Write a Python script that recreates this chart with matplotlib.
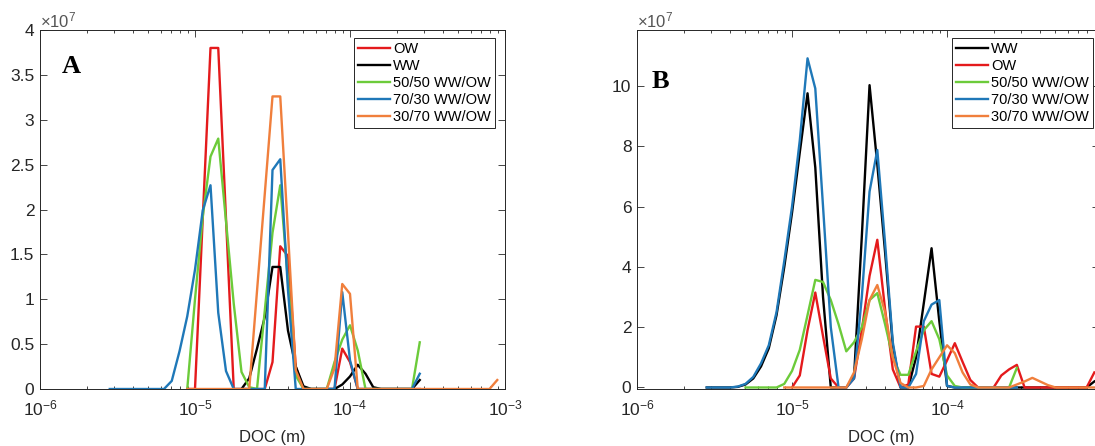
import numpy as np
import matplotlib
matplotlib.use('Agg')
import matplotlib.pyplot as plt
from matplotlib.ticker import FuncFormatter, LogLocator, NullFormatter

plt.rcParams['font.family'] = ['Liberation Sans', 'DejaVu Sans']
plt.rcParams['mathtext.default'] = 'regular'

# ---- data: log10 of DOC (m) bin centres, values in units of 1e7 ----
doc_exp = np.round(np.arange(-5.55, -3.0 + 1e-9, 0.05), 2)

labels_a = ['OW', 'WW', '50/50 WW/OW', '70/30 WW/OW', '30/70 WW/OW']
labels_b = ['WW', 'OW', '50/50 WW/OW', '70/30 WW/OW', '30/70 WW/OW']

# Panel A  (start exponent, values)
a_ow_start = -5.05
a_ow = [0, 0, 1.9, 3.8, 3.8, 1.9, 0, 0, 0, 0, 0, 0.3, 1.59, 1.48, 0.25, 0,
        0, 0, 0, 0, 0.45, 0.3, 0, 0, 0, 0, 0, 0, 0, 0, 0]
a_ww_start = -4.70
a_ww = [0, 0.12, 0.45, 0.8, 1.36, 1.36, 0.65, 0.25, 0.03, 0, 0, 0, 0, 0.05,
        0.14, 0.27, 0.17, 0.02, 0, 0, 0, 0, 0, 0.1]
a_5050_start = -5.05
a_5050 = [0, 1.0, 1.92, 2.59, 2.79, 1.87, 0.95, 0.19, 0.02, 0, 0.87, 1.74,
          2.27, 1.2, 0.15, 0, 0, 0, 0, 0.3, 0.55, 0.71, 0.43, 0, 0, 0, 0, 0,
          0, 0, 0.52]
a_7030_start = -5.55
a_7030 = [0, 0, 0, 0, 0, 0, 0, 0, 0.09, 0.42, 0.81, 1.33, 1.99, 2.27, 0.85,
          0.2, 0, 0, 0, 0, 0, 2.44, 2.56, 1.1, 0, 0, 0, 0, 0, 0, 1.08, 0.32,
          0, 0, 0, 0, 0, 0, 0, 0, 0.17]
a_3070_start = -5.05
a_3070 = [0, 0, 0, 0, 0, 0, 0, 0, 0, 1.09, 2.17, 3.26, 3.26, 1.74, 0.21, 0,
          0, 0, 0, 0.23, 1.17, 1.06, 0, 0, 0, 0, 0, 0, 0, 0, 0, 0, 0, 0, 0,
          0, 0, 0, 0, 0, 0.1]

# Panel B
b_ww_start = -5.55
b_ww = [0, 0, 0, 0, 0.02, 0.1, 0.3, 0.7, 1.3, 2.4, 4.0, 5.8, 7.8, 9.76, 7.3,
        3.0, 0, 0, 0, 0.35, 5.0, 10.03, 7.4, 4.5, 1.4, 0, 0, 1.0, 2.8, 4.62,
        2.2, 0.05, 0, 0, 0, 0, 0, 0, 0, 0, 0, 0, 0, 0, 0, 0, 0, 0, 0, 0, 0.2]
b_ow_start = -5.00
b_ow = [0, 0.4, 1.9, 3.15, 1.7, 0.3, 0, 0, 0.3, 1.9, 3.7, 4.9, 2.6, 0.6, 0,
        0.1, 2.02, 2.02, 0.45, 0.36, 0.9, 1.47, 0.85, 0.25, 0, 0, 0, 0.4,
        0.6, 0.75, 0, 0, 0, 0, 0, 0, 0, 0, 0, 0.5]
b_5050_start = -5.30
b_5050 = [0, 0, 0, 0, 0, 0.12, 0.55, 1.25, 2.4, 3.57, 3.5, 2.9, 2.1, 1.2,
          1.5, 2.0, 2.9, 3.13, 2.1, 1.0, 0.42, 0.42, 1.2, 1.9, 2.2, 1.6, 0.4,
          0.05, 0, 0, 0, 0, 0, 0, 0, 0.65]
b_7030_start = -5.55
b_7030 = [0, 0, 0, 0, 0.03, 0.12, 0.35, 0.8, 1.4, 2.5, 4.2, 6.0, 8.2, 10.92,
          9.92, 6.0, 2.0, 0, 0, 0.3, 3.0, 6.5, 7.88, 4.8, 1.5, 0, 0, 0.45,
          2.2, 2.75, 2.9, 0.05, 0, 0, 0, 0, 0, 0, 0, 0, 0]
b_3070_start = -5.05
b_3070 = [0, 0, 0, 0, 0, 0, 0, 0, 0, 0.5, 1.6, 2.9, 3.4, 2.5, 1.0, 0.15, 0,
          0, 0.05, 0.6, 1.0, 1.4, 1.14, 0.5, 0.1, 0, 0, 0, 0, 0, 0.1, 0.2,
          0.32, 0.2, 0.08, 0, 0, 0, 0, 0, 0]

c_red = '#E41A1C'
c_black = '#000000'
c_green = '#6CCB3A'
c_blue = '#1F78B8'
c_orange = '#F07F3C'


def full_series(start, vals):
    y = np.full(doc_exp.shape, np.nan)
    i0 = int(np.argmin(np.abs(doc_exp - start)))
    y[i0:i0 + len(vals)] = np.asarray(vals, float) * 1e7
    return y


W, H = 1095, 446
fig = plt.figure(figsize=(W / 100, H / 100), dpi=100)
axA = fig.add_axes([40 / W, 57 / H, 465 / W, 359 / H])
axB = fig.add_axes([637 / W, 57 / H, 462 / W, 359 / H])

x = 10.0 ** doc_exp
lw = 1.7
axA.plot(x, full_series(a_ow_start, a_ow), color=c_red, lw=lw, label=labels_a[0])
axA.plot(x, full_series(a_ww_start, a_ww), color=c_black, lw=lw, label=labels_a[1])
axA.plot(x, full_series(a_5050_start, a_5050), color=c_green, lw=lw, label=labels_a[2])
axA.plot(x, full_series(a_7030_start, a_7030), color=c_blue, lw=lw, label=labels_a[3])
axA.plot(x, full_series(a_3070_start, a_3070), color=c_orange, lw=lw, label=labels_a[4])

axB.plot(x, full_series(b_ww_start, b_ww), color=c_black, lw=lw, label=labels_b[0])
axB.plot(x, full_series(b_ow_start, b_ow), color=c_red, lw=lw, label=labels_b[1])
axB.plot(x, full_series(b_5050_start, b_5050), color=c_green, lw=lw, label=labels_b[2])
axB.plot(x, full_series(b_7030_start, b_7030), color=c_blue, lw=lw, label=labels_b[3])
axB.plot(x, full_series(b_3070_start, b_3070), color=c_orange, lw=lw, label=labels_b[4])

gray = '#262626'
for ax in (axA, axB):
    ax.set_xscale('log')
    ax.xaxis.set_major_locator(LogLocator(base=10, numticks=10))
    ax.xaxis.set_minor_locator(LogLocator(base=10, subs=np.arange(2, 10), numticks=20))
    ax.xaxis.set_minor_formatter(NullFormatter())
    ax.yaxis.set_major_formatter(FuncFormatter(lambda v, p: f"{v / 1e7:g}"))
    ax.tick_params(which='both', direction='in', top=True, right=True,
                   colors=gray, labelcolor=gray, width=0.6)
    ax.tick_params(which='major', length=5, labelsize=12.5)
    ax.tick_params(axis='x', which='major', pad=6.5)
    ax.tick_params(axis='y', which='major', pad=4)
    ax.tick_params(which='minor', length=2.5)
    for s in ax.spines.values():
        s.set_color(gray)
        s.set_linewidth(0.7)
    ax.text(0.0, 1.008, r'$\times10^{7}$', transform=ax.transAxes, ha='left',
            va='baseline', fontsize=12, color='#555555')
    ax.set_xlabel('DOC (m)', fontsize=12, color=gray)

axA.set_xlim(1e-6, 1e-3)
axA.set_ylim(0, 4e7)
axA.set_yticks(np.arange(0, 4.01, 0.5) * 1e7)
axA.xaxis.set_label_coords(0.5, -0.115)

axB.set_xlim(1e-6, 10 ** -3.02)
axB.set_ylim(-0.05e7, 11.86e7)
axB.set_yticks(np.arange(0, 10.01, 2) * 1e7)
axB.xaxis.set_label_coords((881 - 637) / 462, -0.115)

axA.text(0.047, 0.88, 'A', transform=axA.transAxes, fontsize=19, fontweight='bold',
         family='Liberation Serif', ha='left', va='baseline')
axB.text(0.031, 0.838, 'B', transform=axB.transAxes, fontsize=19, fontweight='bold',
         family='Liberation Serif', ha='left', va='baseline')

leg_kw = dict(loc='upper right', fontsize=10.5, frameon=True, fancybox=False,
              framealpha=1, edgecolor=gray, borderaxespad=0, handlelength=2.2,
              handletextpad=0.2, labelspacing=0.2, borderpad=0.3,
              bbox_transform=fig.transFigure)
lgA = axA.legend(bbox_to_anchor=(495 / W, 1 - 38 / H), **leg_kw)
lgB = axB.legend(bbox_to_anchor=(1093 / W, 1 - 38 / H), **leg_kw)
for lg in (lgA, lgB):
    lg.get_frame().set_linewidth(0.7)

fig.savefig('out.png', dpi=100)
